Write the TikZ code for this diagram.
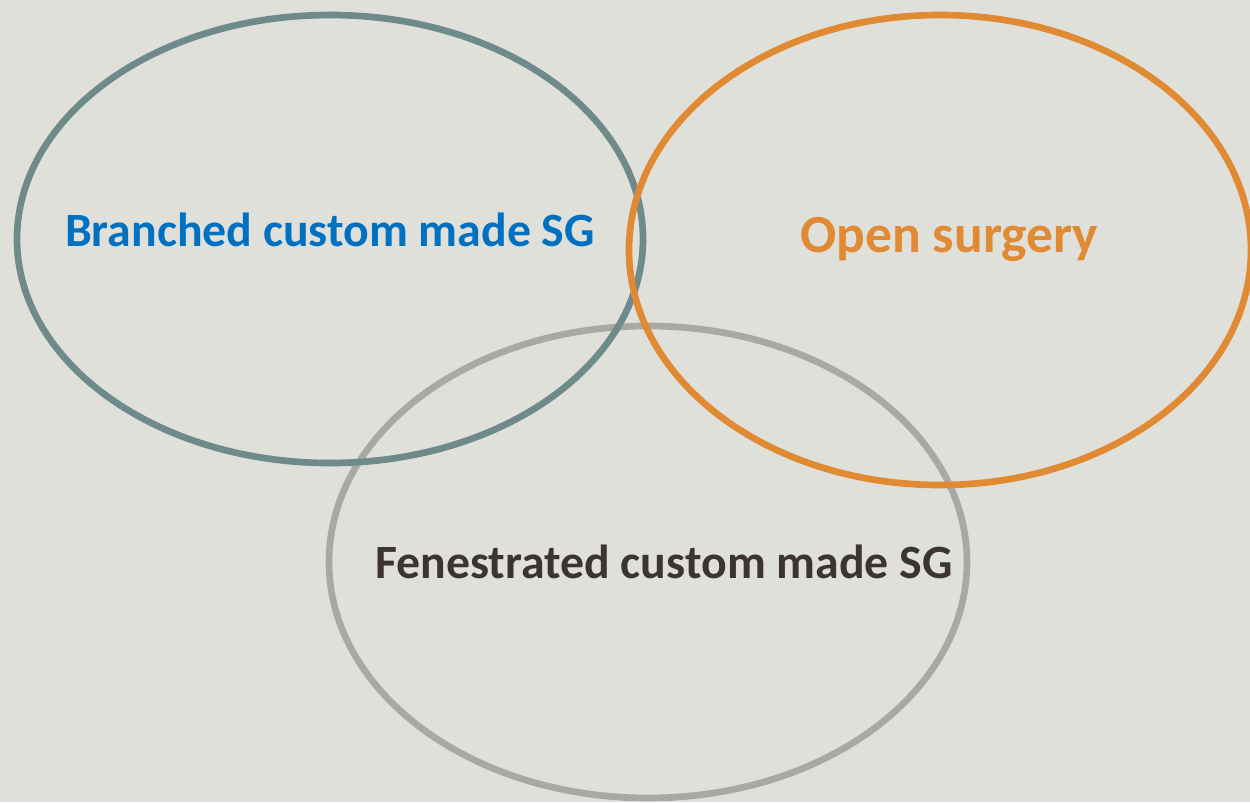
\documentclass[tikz,border=0pt]{standalone}
\usepackage{fontspec}
\setmainfont{Carlito}
\definecolor{bgcol}{HTML}{E0E0DA}
\definecolor{tealring}{HTML}{6F8A8A}
\definecolor{orangering}{HTML}{E08A33}
\definecolor{greyring}{HTML}{A8A8A4}
\definecolor{bluetext}{HTML}{0070C0}
\definecolor{darktext}{HTML}{3B3433}
\begin{document}
\begin{tikzpicture}[x={(0.02cm,0)}, y={(0,-0.02cm)},
  ring/.style={line width=3.8pt},
  label/.style={font=\fontsize{27.2}{31}\selectfont\bfseries, anchor=base, inner sep=0pt}]
  \fill[bgcol] (0,0) rectangle (1250,802);
  \useasboundingbox (0,0) rectangle (1250,802);
  % the three sets, back to front
  \draw[ring, greyring]   (648,562) ellipse [x radius=319, y radius=236];
  \draw[ring, tealring]   (330,239) ellipse [x radius=313, y radius=224];
  \draw[ring, orangering] (940,250) ellipse [x radius=311, y radius=235];
  % set labels
  \node[label, text=bluetext]   (branched) at (330,246) {Branched custom made SG};
  \node[label, text=orangering, font=\fontsize{30.5}{35}\selectfont\bfseries] (open) at (949,252) {Open surgery};
  \node[label, text=darktext]   (fenes)    at (664,578) {Fenestrated custom made SG};
\end{tikzpicture}
\end{document}
